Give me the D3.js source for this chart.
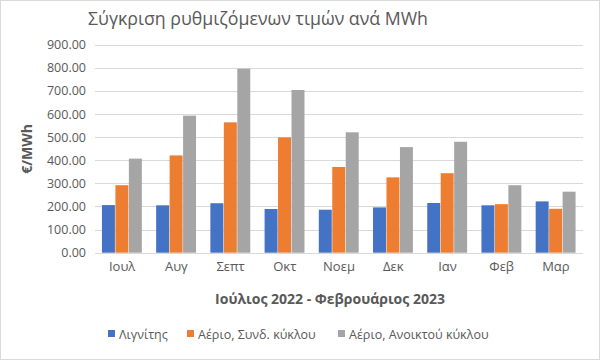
<!DOCTYPE html>
<html><head><meta charset="utf-8">
<script src="https://cdn.jsdelivr.net/npm/d3@7"></script>
<style>body{margin:0;background:#fff}svg{display:block}text{font-family:"Open Sans","Noto Sans",sans-serif;fill:#595959}</style>
</head><body>
<svg id="c" width="600" height="360"></svg>
<script>
const categories = ["Ιουλ","Αυγ","Σεπτ","Οκτ","Νοεμ","Δεκ","Ιαν","Φεβ","Μαρ"];
const seriesNames = ["Λιγνίτης","Αέριο, Συνδ. κύκλου","Αέριο, Ανοικτού κύκλου"];
const lignite = [206,205,214,189,186,196,215,205,222];
const gasCombined = [292,421,564,499,371,326,344,210,190];
const gasOpen = [407,593,796,704,521,457,480,292,264];
const yTicks = [0,100,200,300,400,500,600,700,800,900];
const colors = ["#4472C4","#ED7D31","#A5A5A5"];
const seriesValues = [lignite, gasCombined, gasOpen];

(function(){
const svg = d3.select("#c");
svg.append("rect").attr("x",0.5).attr("y",0.5).attr("width",599).attr("height",359)
  .attr("fill","#fff").attr("stroke","#D9D9D9");

const pLeft=95, pRight=583, pTop=44.7, pBottom=252.7;
const x = d3.scaleBand().domain(categories).range([pLeft,pRight]).paddingInner(0.255).paddingOuter(0.128);
const xs = d3.scaleBand().domain(d3.range(3)).range([0,x.bandwidth()]);
const y = d3.scaleLinear().domain([0,900]).range([pBottom,pTop]);

// grid
svg.append("g").selectAll("line").data(yTicks).join("line")
  .attr("x1",pLeft).attr("x2",pRight).attr("y1",d=>Math.round(y(d))+0.5).attr("y2",d=>Math.round(y(d))+0.5)
  .attr("stroke","#D9D9D9").attr("stroke-width",1);

// y labels
const yAxis = d3.axisLeft(y).tickValues(yTicks).tickFormat(d3.format(".2f")).tickSize(0).tickPadding(0);
const ga = svg.append("g").attr("transform",`translate(86,0)`).call(yAxis);
ga.select(".domain").remove();
ga.selectAll("text").attr("font-size",12.5).attr("fill","#595959").style("font-family",'"Open Sans",sans-serif');

// bars
seriesValues.forEach((vals,si)=>{
  svg.append("g").selectAll("rect").data(vals).join("rect")
    .attr("x",(d,i)=>x(categories[i])+xs(si))
    .attr("width",xs.bandwidth()-0.5)
    .attr("y",d=>y(d)).attr("height",d=>y(0)-y(d))
    .attr("fill",colors[si]);
});

// x labels
const xAxis = d3.axisBottom(x).tickSize(0).tickPadding(0);
const gx = svg.append("g").attr("transform",`translate(0,${pBottom+9})`).call(xAxis);
gx.select(".domain").remove();
gx.selectAll("text").attr("font-size",13).attr("fill","#595959").style("font-family",'"Open Sans",sans-serif');

// titles
svg.append("text").attr("x",258).attr("y",25).attr("text-anchor","middle")
  .attr("font-size",18).attr("textLength",340).attr("lengthAdjust","spacingAndGlyphs")
  .text("Σύγκριση ρυθμιζόμενων τιμών ανά MWh");
svg.append("text").attr("transform","translate(32,149) rotate(-90)").attr("text-anchor","middle")
  .attr("font-size",14).attr("font-weight","bold").text("€/MWh");
svg.append("text").attr("x",330).attr("y",304).attr("text-anchor","middle")
  .attr("font-size",14).attr("font-weight","bold").text("Ιούλιος 2022 - Φεβρουάριος 2023");

// legend
const legX = [108,187,338];
const lg = svg.append("g");
seriesNames.forEach((n,i)=>{
  lg.append("rect").attr("x",legX[i]).attr("y",330).attr("width",7).attr("height",7).attr("fill",colors[i]);
  lg.append("text").attr("x",legX[i]+11).attr("y",338.5).attr("font-size",12.5).text(n);
});
})();
</script>
</body></html>
